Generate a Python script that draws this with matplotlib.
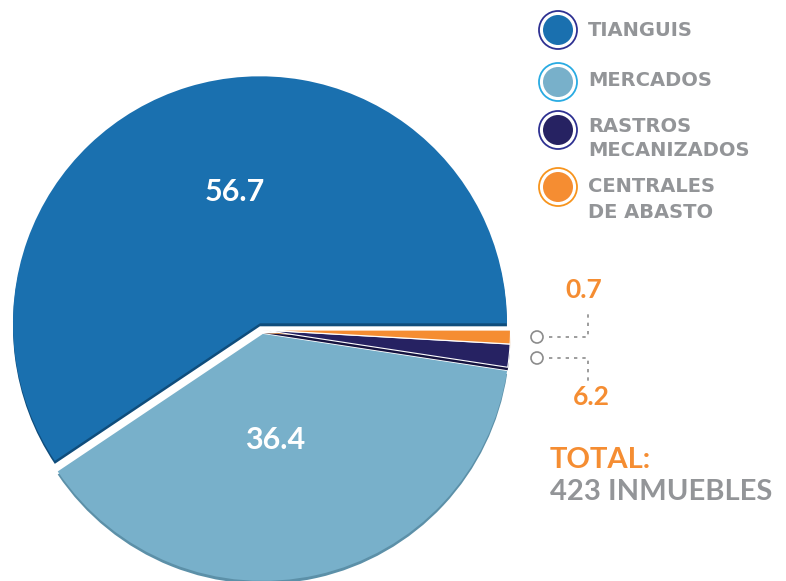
import matplotlib.pyplot as plt
from matplotlib.patches import Circle

# categories and values
categories = ["TIANGUIS", "MERCADOS", "RASTROS\nMECANIZADOS", "CENTRALES\nDE ABASTO"]
label_values = [56.7, 36.4, 6.2, 0.7]
# slice shares as drawn in the picture (the small slices are not to scale there)
slice_share = [59.4, 38.2, 1.5, 0.9]
colors = ["#1A70AF", "#78B0CA", "#262262", "#F58D32"]
shadow_colors = ["#0F4D7C", "#5C90A8", "#151340", "#B8621B"]
ring_colors = ["#2E3192", "#29ABE2", "#2E3192", "#F7941D"]
total_label = "423 INMUEBLES"

W, H = 786, 581
fig = plt.figure(figsize=(W / 100, H / 100), dpi=100)
ax = fig.add_axes([0, 0, 1, 1])

gray = "#939598"
orange = "#F58D32"
font = "Lato"
lfont = "DejaVu Sans"

# axes are in pixel units, so explode is in pixels too
cx, cy, R = 262, H - 330, 247
explode = [7, 4, 1.5, 1.5]

# shadow layer (a bit lower), then the main pie
ax.pie(slice_share, colors=shadow_colors, startangle=0, counterclock=True,
       center=(cx, cy - 3), radius=R, explode=explode, frame=True)
wedges, _ = ax.pie(slice_share, colors=colors, startangle=0, counterclock=True,
                   center=(cx, cy), radius=R, explode=explode, frame=True)
# thin white cuts around the two small slices
for w in wedges[2:]:
    w.set_edgecolor("white")
    w.set_linewidth(0.8)
ax.set_xlim(0, W)
ax.set_ylim(0, H)
ax.set_aspect("equal")
ax.axis("off")

# values inside the big slices
ax.text(235, H - 192, f"{label_values[0]}", color="white", fontsize=22,
        fontweight="bold", family=font, ha="center", va="center")
ax.text(275, H - 440, f"{label_values[1]}", color="white", fontsize=22,
        fontweight="bold", family=font, ha="center", va="center")

# legend
leg_y = [30, 82, 130, 187]
text_y = [[30], [81], [126, 151], [187, 213]]
for i, cat in enumerate(categories):
    y = H - leg_y[i]
    ax.add_patch(Circle((558, y), 19, facecolor="white", edgecolor=ring_colors[i], lw=1.3))
    ax.add_patch(Circle((558, y), 15, facecolor=colors[i], edgecolor="none"))
    for line, ty in zip(cat.split("\n"), text_y[i]):
        ax.text(588, H - ty, line, color=gray, fontsize=14, fontweight="bold",
                family=lfont, ha="left", va="center")

# callouts for the small slices
for (yy, ty, lab, vx, vy) in [(337, 310, label_values[3], 584, 290),
                              (358, 382, label_values[2], 591, 397)]:
    ax.add_patch(Circle((537, H - yy), 6, facecolor="white", edgecolor="#8C8C8C", lw=1.2))
    ax.plot([549, 588, 588], [H - yy, H - yy, H - ty], color="#8C8C8C", lw=1.2,
            ls=(0, (2, 3)))
    ax.text(vx, H - vy, f"{lab}", color=orange, fontsize=19, fontweight="bold",
            family=font, ha="center", va="center")

ax.text(550, H - 460, "TOTAL:", color=orange, fontsize=21, fontweight="bold",
        family=font, ha="left", va="center")
ax.text(550, H - 492, total_label, color=gray, fontsize=21, fontweight="bold",
        family=font, ha="left", va="center")

fig.savefig("out.png", dpi=100)
